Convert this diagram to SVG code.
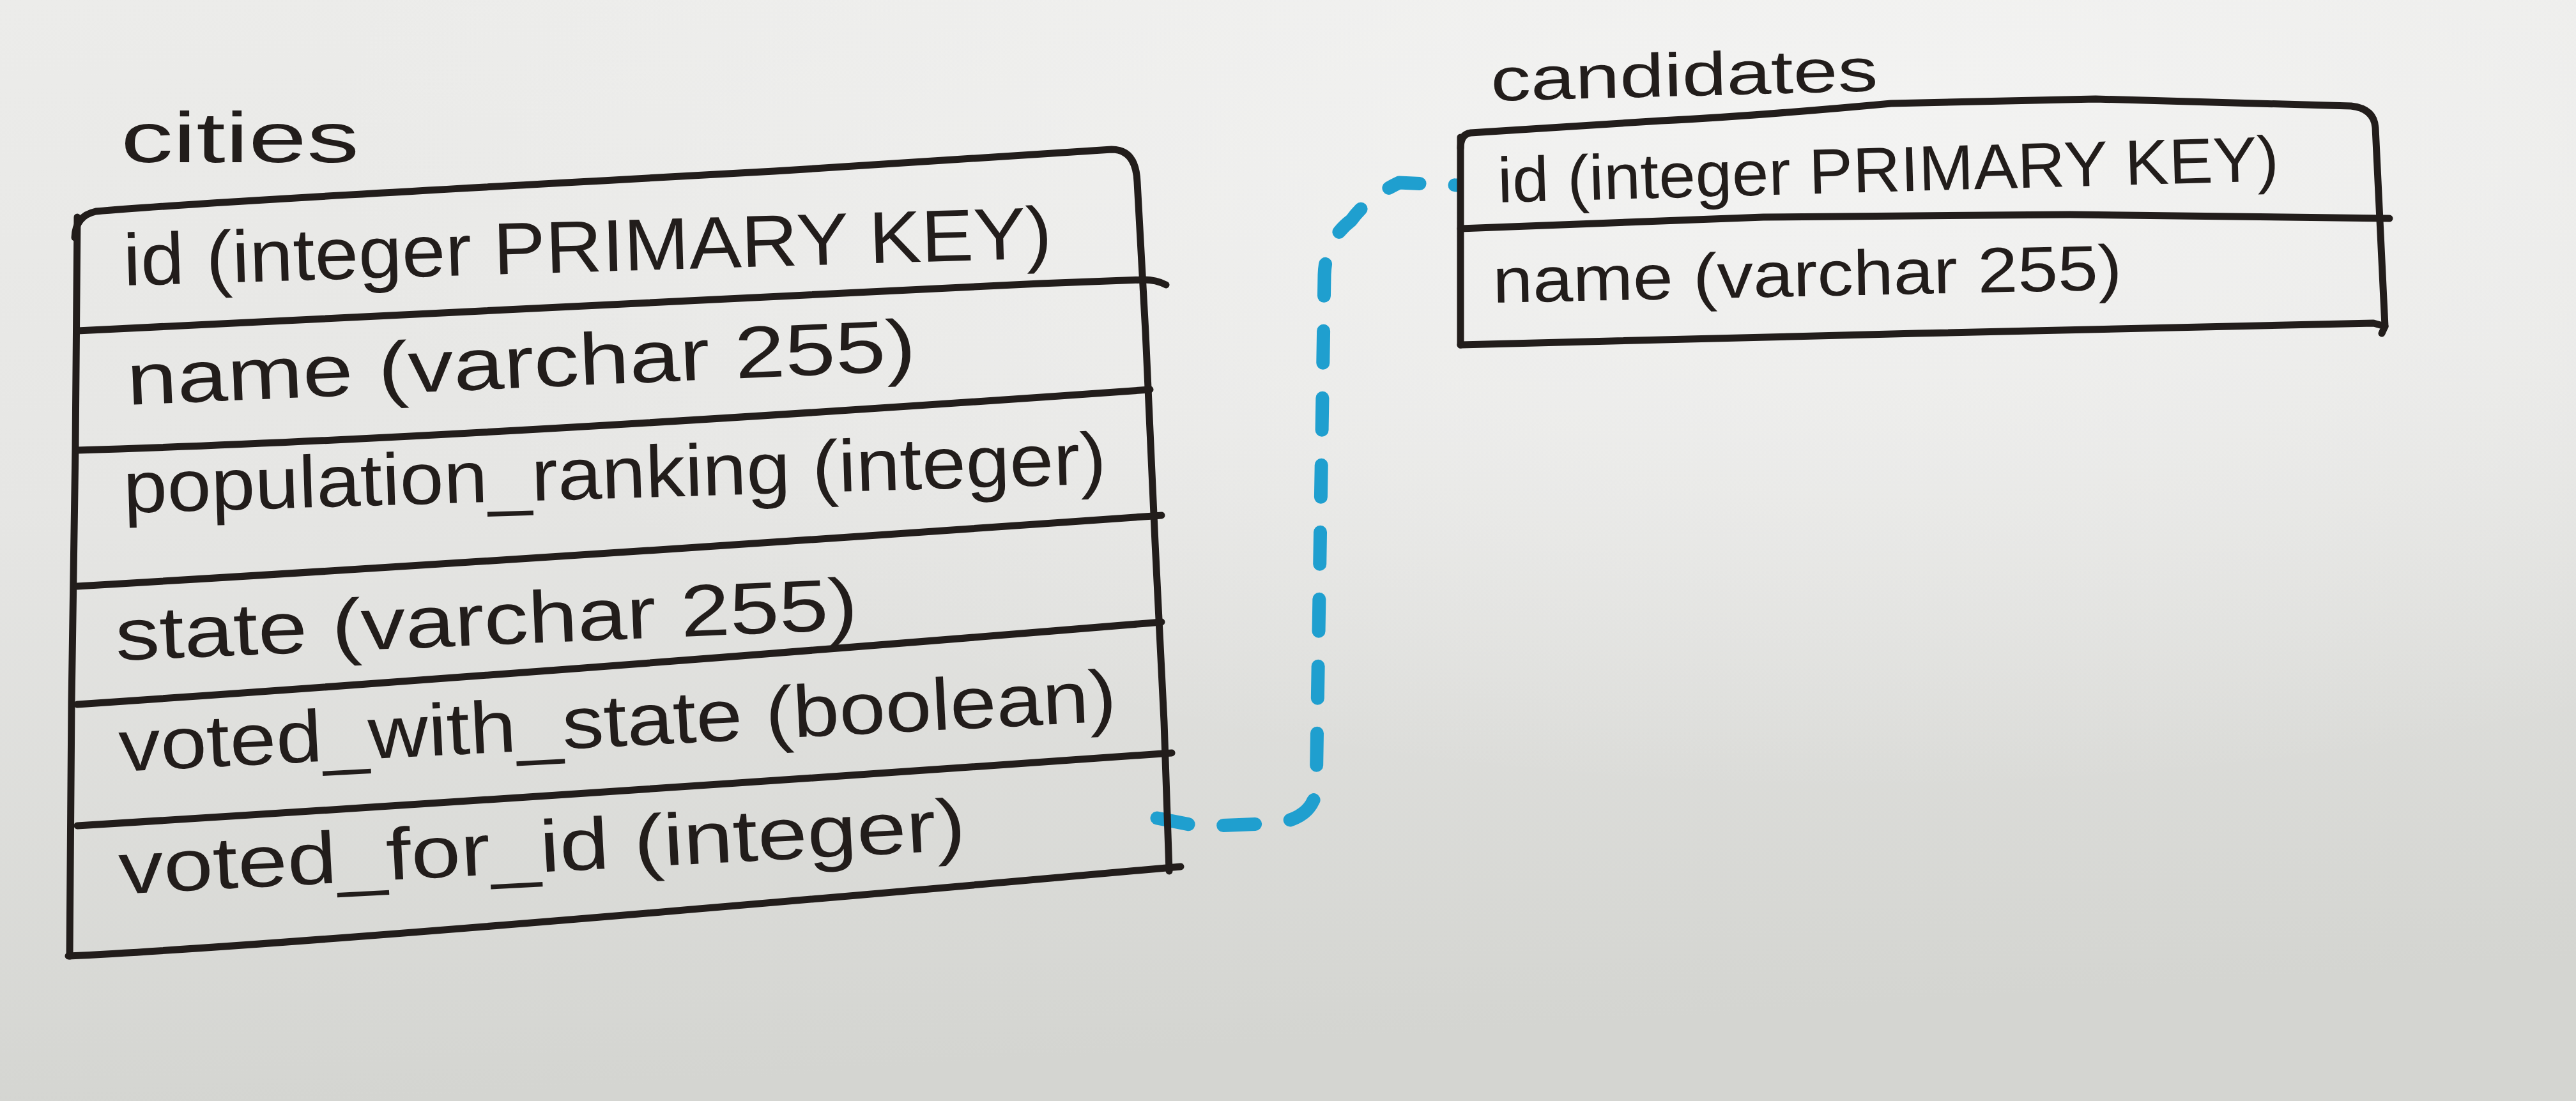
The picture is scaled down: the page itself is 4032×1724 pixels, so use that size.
<svg xmlns="http://www.w3.org/2000/svg" width="4032" height="1724" viewBox="0 0 4032 1724">
  <defs>
    <linearGradient id="paper" x1="0" y1="0" x2="0.15" y2="1">
      <stop offset="0" stop-color="#ececea"/>
      <stop offset="0.45" stop-color="#e6e6e4"/>
      <stop offset="1" stop-color="#d4d5d1"/>
    </linearGradient>
    <radialGradient id="glow" cx="0.72" cy="0.12" r="0.6">
      <stop offset="0" stop-color="#f4f4f3" stop-opacity="0.9"/>
      <stop offset="1" stop-color="#f4f4f3" stop-opacity="0"/>
    </radialGradient>
    <style>
      .ink { fill: none; stroke: #221d1b; stroke-width: 11; stroke-linecap: round; stroke-linejoin: round; }
      .txt { font-family: "Liberation Sans", Arial, sans-serif; fill: #221d1b; }
      .row { font-size: 115px; }
      .crow { font-size: 100px; }
      .title { font-size: 112px; }
      .link { fill: none; stroke: #1f9fcf; stroke-width: 21; stroke-linecap: round; stroke-linejoin: round; stroke-dasharray: 50 55; }
    </style>
  </defs>

  <rect x="0" y="0" width="4032" height="1724" fill="url(#paper)"/>
  <rect x="0" y="0" width="4032" height="1724" fill="url(#glow)"/>

  <g id="connectors">
    <path class="link" d="M1811,1281 L1877,1294 L1975,1290 Q2050,1290 2060,1240 L2073,430 Q2075,375 2115,345 Q2140,310 2190,286 L2280,290"/>
  </g>

  <g id="cities">
    <text class="txt title" x="189" y="254" textLength="373" lengthAdjust="spacingAndGlyphs">cities</text>
    <path class="ink" d="M117,372 Q118,338 150,331 C300,318 700,296 1212,268 L1740,234 Q1778,234 1780,285 L1793,520 L1808,850 L1822,1130 L1830,1364"/>
    <path class="ink" d="M121,340 L118,700 L112,1100 L109,1497"/>
    <path class="ink" d="M107,1497 Q500,1478 1848,1357"/>
    <path class="ink" d="M121,518 Q900,480 1628,444 L1790,438 Q1810,438 1825,446"/>
    <path class="ink" d="M121,705 Q700,688 1800,610"/>
    <path class="ink" d="M121,918 Q900,872 1818,807"/>
    <path class="ink" d="M121,1103 Q900,1050 1818,974"/>
    <path class="ink" d="M121,1293 Q900,1245 1834,1179"/>
    <text class="txt row" x="194" y="447" transform="rotate(-1.7 194 447)" textLength="1454" lengthAdjust="spacingAndGlyphs">id (integer PRIMARY KEY)</text>
    <text class="txt row" x="200" y="634" transform="rotate(-2.5 200 634)" textLength="1236" lengthAdjust="spacingAndGlyphs">name (varchar 255)</text>
    <text class="txt row" x="194" y="803" transform="rotate(-1.7 194 803)" textLength="1539" lengthAdjust="spacingAndGlyphs">population_ranking (integer)</text>
    <text class="txt row" x="182" y="1034" transform="rotate(-2.4 182 1034)" textLength="1163" lengthAdjust="spacingAndGlyphs">state (varchar 255)</text>
    <text class="txt row" x="188" y="1208" transform="rotate(-2.9 188 1208)" textLength="1563" lengthAdjust="spacingAndGlyphs">voted_with_state (boolean)</text>
    <text class="txt row" x="188" y="1400" transform="rotate(-3 188 1400)" textLength="1327" lengthAdjust="spacingAndGlyphs">voted_for_id (integer)</text>
  </g>

  <g id="candidates">
    <text class="txt title" x="2334" y="158" transform="rotate(-1.5 2334 158)" style="font-size:96px" textLength="606" lengthAdjust="spacingAndGlyphs">candidates</text>
    <path class="ink" d="M2286,232 Q2286,210 2302,208 L2600,189 C2700,184 2820,175 2960,162 L3280,155 L3680,166 Q3716,170 3718,200 L3733,511"/>
    <path class="ink" d="M2286,215 L2286,540"/>
    <path class="ink" d="M2286,540 L3000,522 L3715,506 L3733,511 L3728,522"/>
    <path class="ink" d="M2286,358 L2760,340 L3240,336 L3740,342"/>
    <text class="txt crow" x="2345" y="317" transform="rotate(-1.6 2345 317)" textLength="1223" lengthAdjust="spacingAndGlyphs">id (integer PRIMARY KEY)</text>
    <text class="txt crow" x="2337" y="474" transform="rotate(-1.2 2337 474)" textLength="985" lengthAdjust="spacingAndGlyphs">name (varchar 255)</text>
  </g>
</svg>
